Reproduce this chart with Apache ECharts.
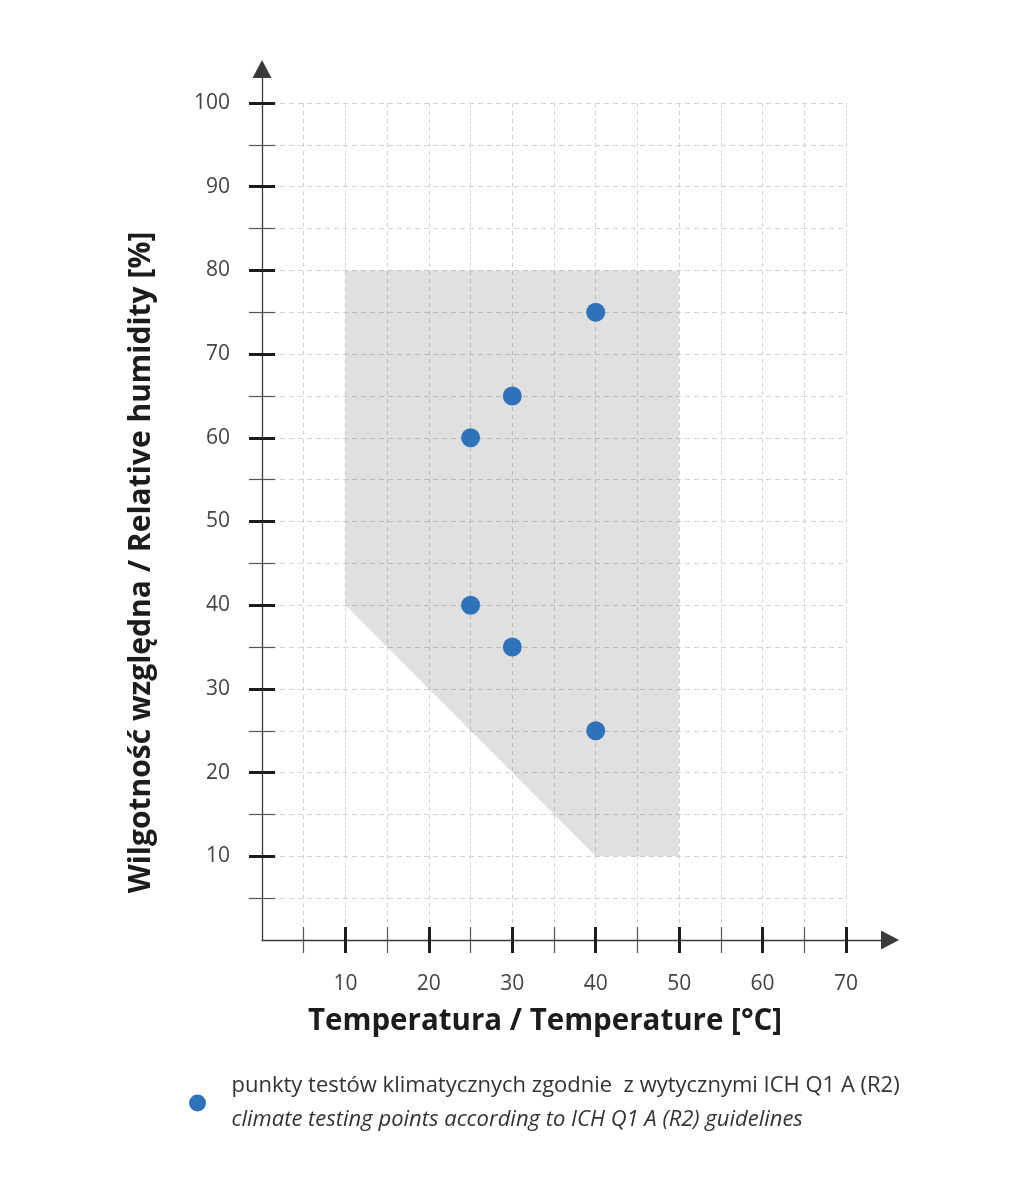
<!DOCTYPE html>
<html>
<head>
<meta charset="utf-8">
<script src="https://cdn.jsdelivr.net/npm/echarts@6/dist/echarts.min.js"></script>
<style>
  html, body { margin: 0; padding: 0; background: #fff; }
  #chart { width: 1030px; height: 1190px; }
</style>
</head>
<body>
<div id="chart"></div>
<script>
// climate test points (temperature °C, relative humidity %)
const pointTemp = [25, 30, 40, 25, 30, 40];
const pointHum = [60, 65, 75, 40, 35, 25];

// working range of the chamber (polygon corners)
const zoneTemp = [10, 10, 50, 50, 40];
const zoneHum = [40, 80, 80, 10, 10];

// ticks
const majorX = [10, 20, 30, 40, 50, 60, 70];
const minorX = [5, 15, 25, 35, 45, 55, 65];
const majorY = [10, 20, 30, 40, 50, 60, 70, 80, 90, 100];
const minorY = [5, 15, 25, 35, 45, 55, 65, 75, 85, 95];

const legendLines = [
	'punkty testów klimatycznych zgodnie  z wytycznymi ICH Q1 A (R2)',
	'climate testing points according to ICH Q1 A (R2) guidelines'
];

const font = 'Open Sans';
const box = { left: 262, right: 184, top: 103, bottom: 250, outerBoundsMode: 'none' };

const chart = echarts.init(document.getElementById('chart'));

// grid 0 = data, 1..4 = tick layers, 5 = axis lines with arrows
const grids = [
	box,
	box, box, box, box,
	{ left: 262, right: 140, top: 69, bottom: 250, outerBoundsMode: 'none' }
];

const hidden = { axisLine: { show: false }, axisTick: { show: false }, axisLabel: { show: false }, splitLine: { show: false } };

// tick layers: [values x, values y, inside, style]
const majorStyle = { color: '#1c1c1c', width: 3 };
const minorStyle = { color: '#555', width: 1.2 };
const tickLayers = [
	[majorX, majorY, false, majorStyle],
	[majorX, majorY, true, majorStyle],
	[minorX, minorY, false, minorStyle],
	[minorX, minorY, true, minorStyle]
];

const xAxes = [];
const yAxes = [];

// data axes
xAxes.push({
	type: 'value', gridIndex: 0, min: 0, max: 70, interval: 5,
	axisLine: { show: false }, axisTick: { show: false },
	axisLabel: {
		margin: 34, color: '#444', fontFamily: font, fontSize: 21,
		formatter: v => (v > 0 && v % 10 === 0 ? String(v) : '')
	},
	splitLine: { show: true, lineStyle: { color: '#d2d2d2', width: 1, type: [4, 4] } },
	name: 'Temperatura / Temperature [°C]',
	nameLocation: 'middle', nameGap: 67,
	nameTextStyle: { fontFamily: font, fontWeight: 'bold', fontSize: 29.5, color: '#1c1c1c', padding: [0, 18, 0, 0] }
});
yAxes.push({
	type: 'value', gridIndex: 0, min: 0, max: 100, interval: 5,
	axisLine: { show: false }, axisTick: { show: false },
	axisLabel: {
		margin: 32, color: '#444', fontFamily: font, fontSize: 21,
		formatter: v => (v > 0 && v % 10 === 0 ? String(v) : '')
	},
	splitLine: { show: true, lineStyle: { color: '#d2d2d2', width: 1, type: [5, 4] } },
	name: 'Wilgotność względna / Relative humidity [%]',
	nameLocation: 'middle', nameGap: 106, nameRotate: 90,
	nameTextStyle: { fontFamily: font, fontWeight: 'bold', fontSize: 30, color: '#1c1c1c', padding: [0, 82, 0, 0] }
});

tickLayers.forEach(([vx, vy, inside, style], i) => {
	const g = i + 1;
	xAxes.push(Object.assign({}, hidden, {
		type: 'value', gridIndex: g, min: 0, max: 70,
		axisTick: { show: true, customValues: vx, inside: inside, length: 13, lineStyle: style }
	}));
	yAxes.push(Object.assign({}, hidden, {
		type: 'value', gridIndex: g, min: 0, max: 100,
		axisTick: { show: true, customValues: vy, inside: inside, length: 13, lineStyle: style }
	}));
});

// axis lines with arrow heads
const axisLine = {
	show: true, onZero: false,
	symbol: ['none', 'triangle'], symbolSize: [19, 18],
	lineStyle: { color: '#3a3a3a', width: 1.3 }
};
xAxes.push(Object.assign({}, hidden, { type: 'value', gridIndex: 5, min: 0, max: 10, axisLine: axisLine }));
yAxes.push(Object.assign({}, hidden, { type: 'value', gridIndex: 5, min: 0, max: 10, axisLine: axisLine }));

const zoneData = zoneTemp.map((t, i) => [t, zoneHum[i]]);

chart.setOption({
	backgroundColor: '#fff',
	animation: false,
	grid: grids,
	xAxis: xAxes,
	yAxis: yAxes,
	legend: {
		data: [legendLines[0]],
		left: 189, top: 1075, padding: 0,
		icon: 'circle', itemWidth: 58, itemHeight: 17,
		formatter: () => `{pl|${legendLines[0]}}\n{en|${legendLines[1]}}`,
		textStyle: {
			rich: {
				pl: { fontFamily: font, fontSize: 22, color: '#333', lineHeight: 34 },
				en: { fontFamily: font, fontSize: 22, fontStyle: 'italic', color: '#333', lineHeight: 34 }
			}
		}
	},
	series: [
		{
			type: 'custom',
			xAxisIndex: 0, yAxisIndex: 0,
			data: zoneData,
			silent: true,
			z: 1,
			renderItem: (params, api) => {
				if (params.dataIndex !== 0) return null;
				return {
					type: 'polygon',
					shape: { points: zoneData.map(d => api.coord(d)) },
					style: { fill: 'rgba(0,0,0,0.12)' }
				};
			}
		},
		{
			name: legendLines[0],
			type: 'scatter',
			xAxisIndex: 0, yAxisIndex: 0,
			symbolSize: 19,
			itemStyle: { color: '#2e73ba', opacity: 1 },
			data: pointTemp.map((t, i) => [t, pointHum[i]]),
			z: 5
		}
	]
});
</script>
</body>
</html>
